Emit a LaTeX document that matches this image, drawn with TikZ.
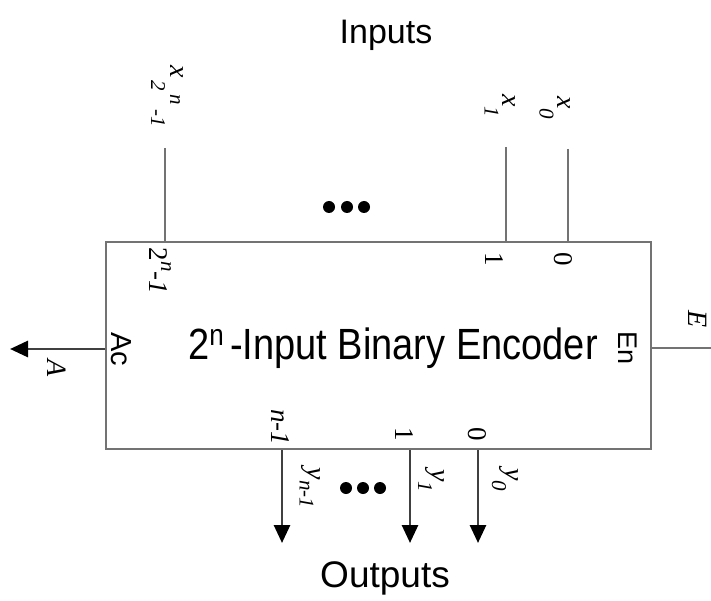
\documentclass[tikz,border=0pt]{standalone}
\usepackage{fontspec}
\setmainfont{Liberation Serif}
\setsansfont{Liberation Sans}
\usetikzlibrary{arrows.meta}
\newcommand\mainsz{\fontsize{28}{30}\selectfont}
\newcommand\subsz{\fontsize{21}{23}\selectfont}
\newcommand\lsub[3]{\textit{#1}\raisebox{#3}{\subsz\textit{#2}}}
\tikzset{
  wire/.style={draw=black!55, line width=2.6pt},
  outwire/.style={draw=black!75, line width=2.8pt, -{Triangle[length=18pt,width=16pt,color=black]}},
  sig/.style={rotate=-90, inner sep=0pt, font=\mainsz},
  pin/.style={rotate=-90, inner sep=0pt, font=\fontsize{27}{29}\selectfont},
  port/.style={rotate=-90, inner sep=0pt, font=\sffamily\fontsize{29}{31}\selectfont},
  title/.style={inner sep=0pt, font=\sffamily\fontsize{34}{40}\selectfont},
  dot/.style={circle, fill=black, inner sep=0pt, minimum size=12pt},
}
\begin{document}
\begin{tikzpicture}[x=1pt,y=-1pt]
\useasboundingbox (0,0) rectangle (711,601);
% box
\node[draw=black!55, line width=2.6pt, minimum width=545pt, minimum height=207pt, inner sep=0pt] (enc) at (378.5,345.5) {};
\node[inner sep=0pt, font=\sffamily\fontsize{38}{44}\selectfont] (lbl) at (393,348) {\scalebox{1}[1.15]{2\raisebox{12pt}{\fontsize{26}{28}\selectfont n}\,-Input Binary Encoder}};
% titles
\node[title] (inp) at (386,35) {Inputs};
\node[title, font=\sffamily\fontsize{37}{42}\selectfont] (outp) at (385,578) {Outputs};
% input wire ends
\coordinate (tN) at (165,148);
\coordinate (t1) at (506,147);
\coordinate (t0) at (568,149);
\draw[wire] (tN) -- (tN |- enc.north);
\draw[wire] (t1) -- (t1 |- enc.north);
\draw[wire] (t0) -- (t0 |- enc.north);
% input labels
\node[sig] (xN) at (167,96) {\textit{x}\hspace{3pt}\raisebox{-19pt}{\subsz\textit{2}\hspace{4pt}\raisebox{19pt}{\textit{n}}\hspace{4pt}\textit{-1}}};
\node[sig] (x1) at (500,105.5) {\lsub{x}{1}{-18pt}};
\node[sig] (x0) at (555,108) {\lsub{x}{0}{-18pt}};
% pin labels top
\node[pin] (pN) at (160,271) {2\raisebox{12pt}{\subsz\textit{n}}\textit{-1}};
\node[pin] (p1) at (494,259) {1};
\node[pin] (p0) at (563,259) {0};
% dots top
\node[dot] (d1) at (329,207) {};
\node[dot] (d2) at (347,207) {};
\node[dot] (d3) at (364,207) {};
% outputs
\coordinate (oN) at (282,543);
\coordinate (o1) at (410,543);
\coordinate (o0) at (478,543);
\draw[outwire] (oN |- enc.south) -- (oN);
\draw[outwire] (o1 |- enc.south) -- (o1);
\draw[outwire] (o0 |- enc.south) -- (o0);
\node[pin] (qN) at (280,427) {\textit{n-1}};
\node[pin] (q1) at (404,434) {1};
\node[pin] (q0) at (477,434) {0};
\node[sig] (yN) at (310,488) {\lsub{y}{n-1}{-8pt}};
\node[sig] (y1) at (431,481) {\lsub{y}{1}{-13pt}};
\node[sig] (y0) at (505,480) {\lsub{y}{0}{-13pt}};
\node[dot] (e1) at (346,488) {};
\node[dot] (e2) at (363,488) {};
\node[dot] (e3) at (380,488) {};
% Ac / A
\coordinate (aend) at (10,349);
\draw[outwire] (enc.west |- aend) -- (aend);
\node[port] (ac) at (121,349) {Ac};
\node[sig] (A) at (57,368) {\textit{A}};
% En / E
\coordinate (eend) at (711,348);
\draw[wire] (enc.east |- eend) -- (eend);
\node[port, font=\sffamily\fontsize{27}{29}\selectfont] (en) at (628,348) {En};
\node[sig] (E) at (698,319) {\textit{E}};
\end{tikzpicture}
\end{document}
